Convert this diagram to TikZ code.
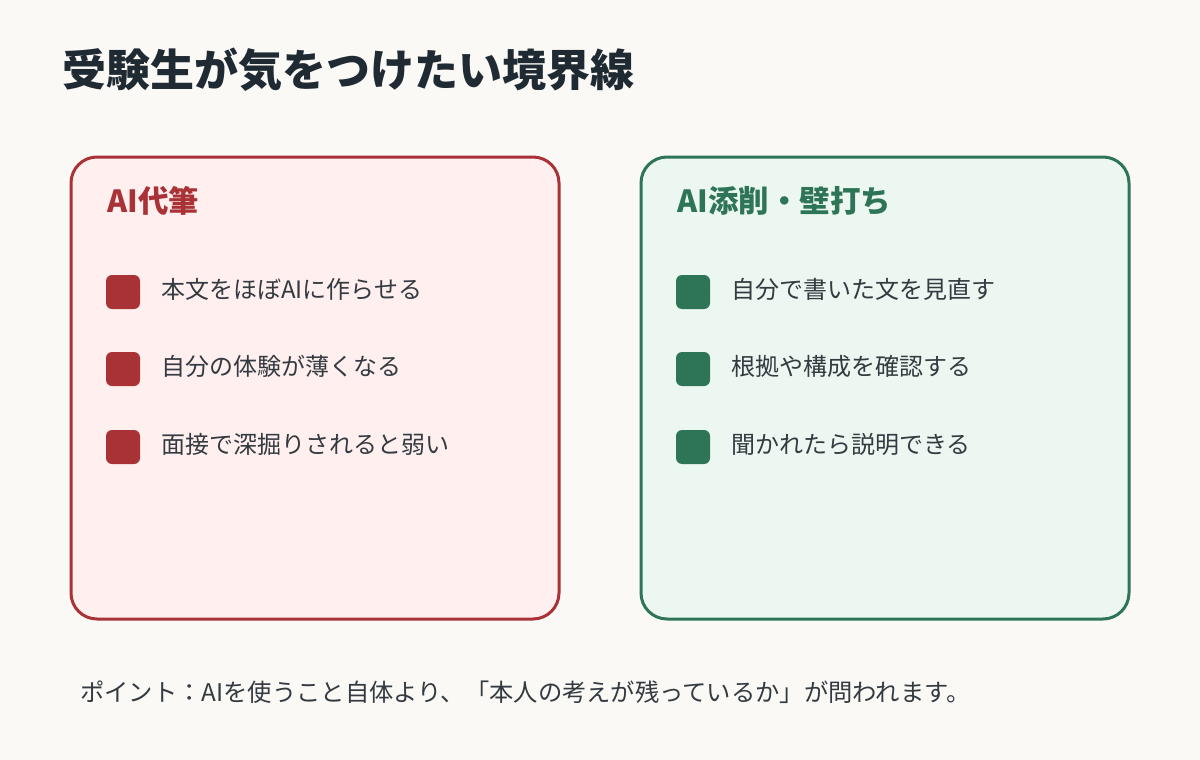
\documentclass[tikz,border=0pt]{standalone}
\usepackage{fontspec}
\setmainfont{Noto Sans CJK JP}
\definecolor{bgcol}{HTML}{FAF9F6}
\definecolor{titlecol}{HTML}{1F2A33}
\definecolor{redline}{HTML}{A83236}
\definecolor{redfill}{HTML}{FFF0EF}
\definecolor{greenline}{HTML}{2E7557}
\definecolor{greenfill}{HTML}{EDF7F1}
\definecolor{textcol}{HTML}{333A40}
\tikzset{
  panel/.style={rounded corners=26pt,line width=3pt},
  bullet/.style={rounded corners=6pt,minimum size=34pt,inner sep=0pt},
  item/.style={anchor=west,inner sep=0pt,text=textcol,font=\fontsize{24}{28}\selectfont},
  head/.style={anchor=west,inner sep=0pt,font=\bfseries\fontsize{30.5}{34}\selectfont}
}
\begin{document}
\begin{tikzpicture}[x=1pt,y=-1pt]
                \fill[bgcol](0,0) rectangle (1200,760);
                \useasboundingbox (0,0) rectangle (1200,760);
                \node[anchor=west,inner sep=0pt,text=titlecol,font=\bfseries\fontsize{44}{50}\selectfont](title) at (62,70) {受験生が気をつけたい境界線};
                \draw[panel,draw=redline,fill=redfill](71,157) rectangle (559,619);
                \draw[panel,draw=greenline,fill=greenfill](641,157) rectangle (1129,619);
                \node[head,text=redline](redhead) at (107,201) {AI代筆};
                \node[head,text=greenline](greenhead) at (677,201) {AI添削・壁打ち};
                \foreach \y/\t [count=\i] in {292/本文をほぼAIに作らせる,369/自分の体験が薄くなる,447/面接で深掘りされると弱い}{
                  \node[bullet,fill=redline](rb\i) at (123,\y) {};
                  \node[item](rt\i) at (161,\y-3) {\t};
                }
                \foreach \y/\t [count=\i] in {292/自分で書いた文を見直す,369/根拠や構成を確認する,447/聞かれたら説明できる}{
                  \node[bullet,fill=greenline](gb\i) at (693,\y) {};
                  \node[item](gt\i) at (731,\y-3) {\t};
                }
                \node[item,font=\fontsize{24.3}{28}\selectfont](note) at (80,692) {ポイント：AIを使うこと自体より、「本人の考えが残っているか」が問われます。};
            \end{tikzpicture}
\end{document}
